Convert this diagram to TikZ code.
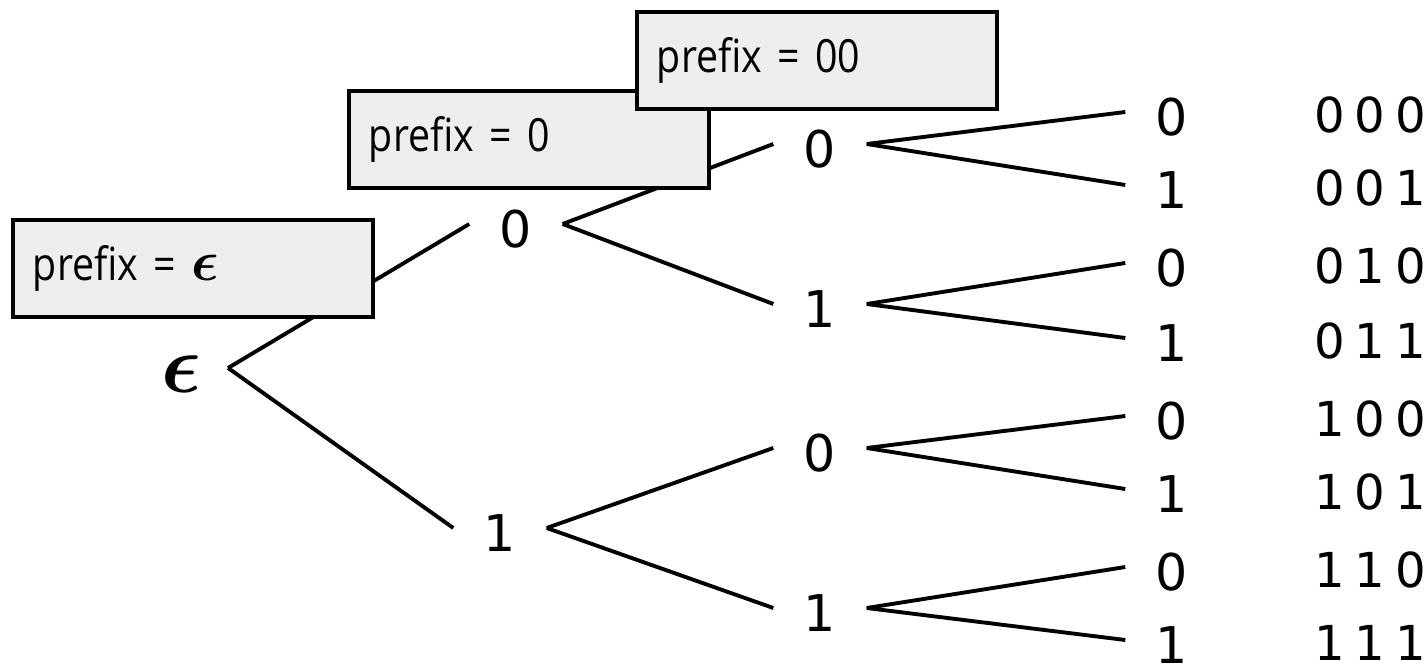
\documentclass[tikz,border=0pt]{standalone}
\usepackage{amsmath}
\usepackage{fontspec}
\usepackage{xcolor}
\newfontfamily\ziffern{DejaVu Sans}
\newfontfamily\codes[LetterSpace=20]{DejaVu Sans}
\newfontfamily\kasten[FakeStretch=0.86]{Open Sans}
\definecolor{kastengrau}{HTML}{EEEEEE}
\newcommand{\eps}[1]{\scalebox{#1}{$\boldsymbol{\epsilon}$}}

\begin{document}
\begin{tikzpicture}[x=0.01cm,y=-0.01cm,
		kante/.style={line width=1.1pt},
		ziffer/.style={font=\ziffern\fontsize{14.4}{17}\selectfont,inner xsep=8.5pt,inner ysep=0pt,text height=13.1pt,text depth=0pt},
		wurzel/.style={inner xsep=7.5pt,inner ysep=0pt,text height=14pt,text depth=0pt},
		code/.style={font=\codes\fontsize{13.7}{16}\selectfont,anchor=west,inner sep=0pt,text height=11.4pt,text depth=0pt},
		praefix/.style={draw,line width=1.1pt,fill=kastengrau,anchor=north west,font=\kasten\fontsize{13}{15}\selectfont,
			text width=3.2cm,inner xsep=0.2cm,align=left,minimum height=0.97cm}]
		\useasboundingbox (0,0) rectangle (1427,670);

		% Knoten
		\node[wurzel] (e) at (181,368) {\eps{2.35}};
		\node[ziffer] (n0) at (516,224) {0};
		\node[ziffer] (n1) at (500,528) {1};
		\node[ziffer] (n00) at (820,144) {0};
		\node[ziffer] (n01) at (820,304) {1};
		\node[ziffer] (n10) at (820,448) {0};
		\node[ziffer] (n11) at (820,608) {1};

		% Kanten
		\draw[kante] (e.east) -- (n0.west);
		\draw[kante] (e.east) -- (n1.west);
		\draw[kante] (n0.east) -- (n00.west);
		\draw[kante] (n0.east) -- (n01.west);
		\draw[kante] (n1.east) -- (n10.west);
		\draw[kante] (n1.east) -- (n11.west);

		% Blaetter und Codewoerter
		\foreach \y/\b/\c/\p in {112/0/000/00,185/1/001/00,263/0/010/01,338/1/011/01,
				416/0/100/10,489/1/101/10,567/0/110/11,640/1/111/11}{
			\node[ziffer] (b\c) at (1172,\y) {\b};
			\draw[kante] (n\p.east) -- (b\c.west);
			\node[code] (c\c) at (1314,\y) {\c};
		}

		% Praefix-Kaesten
		\node[praefix] (pe) at (11,218) {prefix = \eps{1.35}};
		\node[praefix] (p0) at (347,89) {prefix = 0};
		\node[praefix] (p00) at (635,10) {prefix = 00};
	\end{tikzpicture}
\end{document}
